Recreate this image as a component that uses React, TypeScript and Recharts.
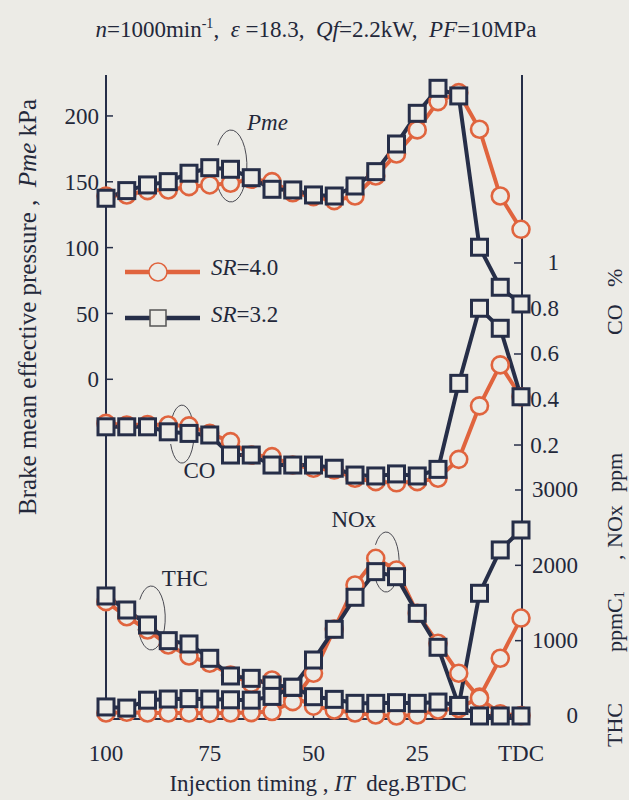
import React from 'react';
import { LineChart, Line, XAxis, YAxis, Legend, ReferenceDot } from 'recharts';

// injection timing, deg BTDC (0 = TDC)
const timing = [100, 95, 90, 85, 80, 75, 70, 65, 60, 55, 50, 45, 40, 35, 30, 25, 20, 15, 10, 5, 0];

// brake mean effective pressure, kPa
const pmeSR40 = [139.2, 140.0, 143.3, 143.8, 146.3, 147.6, 148.9, 151.9, 150.1, 141.7, 138.7, 135.7, 139.2, 154.4, 171.1, 189.4, 210.9, 217.7, 189.9, 139.2, 113.9];
const pmeSR32 = [137.5, 143.3, 147.6, 150.1, 156.5, 160.7, 159.5, 153.1, 144.3, 143.8, 140.0, 139.2, 146.8, 157.7, 178.7, 202.0, 221.0, 215.2, 100.3, 69.9, 57.2];

// CO, %
const coSR40 = [0.295, 0.288, 0.29, 0.288, 0.284, 0.251, 0.215, 0.156, 0.149, 0.112, 0.098, 0.09, 0.054, 0.039, 0.034, 0.039, 0.054, 0.137, 0.372, 0.552, 0.412];
const coSR32 = [0.28, 0.28, 0.28, 0.258, 0.251, 0.244, 0.156, 0.156, 0.112, 0.112, 0.112, 0.098, 0.068, 0.064, 0.073, 0.064, 0.093, 0.471, 0.801, 0.713, 0.412];

// THC ppmC1
const thcSR40 = [1518, 1318, 1142, 943, 797, 700, 544, 434, 478, 260, 130, 80, 40, 13, 0, 13, 80, 100, 250, 766, 1300];
const thcSR32 = [1593, 1407, 1208, 1000, 956, 766, 531, 500, 411, 381, 256, 221, 168, 168, 177, 168, 185, 140, 1629, 2204, 2469];

// NOx ppm
const noxSR40 = [40, 50, 40, 40, 40, 35, 40, 45, 60, 190, 567, 1155, 1739, 2093, 1938, 1363, 965, 567, 235, 30, 5];
const noxSR32 = [120, 105, 210, 225, 230, 225, 215, 210, 260, 381, 743, 1151, 1576, 1916, 1849, 1363, 912, 140, 0, 0, 0];

const xTicks = [100, 75, 50, 25, 0];
const pmeTicks = [0, 50, 100, 150, 200];
const coTicks = [0.2, 0.4, 0.6, 0.8, 1];
const ppmTicks = [0, 1000, 2000, 3000];

const ORANGE = '#e0643e';
const NAVY = '#262e48';
const BG = '#ecebe6';
const INK = '#23283a';
const FONT = '"Liberation Serif", "Times New Roman", serif';

const data = timing.map((t, i) => ({
  t,
  pme40: pmeSR40[i], pme32: pmeSR32[i],
  co40: coSR40[i], co32: coSR32[i],
  thc40: thcSR40[i], thc32: thcSR32[i],
  nox40: noxSR40[i], nox32: noxSR32[i],
}));

const CircleDot = (props: any) => {
  const { cx, cy } = props;
  if (cx == null || cy == null) return null;
  return <circle cx={cx} cy={cy} r={8.5} fill={BG} stroke={ORANGE} strokeWidth={2.6} />;
};

const SquareDot = (props: any) => {
  const { cx, cy } = props;
  if (cx == null || cy == null) return null;
  return <rect x={cx - 8} y={cy - 8} width={16} height={16} fill={BG} stroke={NAVY} strokeWidth={3} />;
};

const RightTick = (props: any) => {
  const { x, y, payload, fmt } = props;
  return (
    <text x={x} y={y} textAnchor="end" dominantBaseline="central" fontSize={23} fill={INK} fontFamily={FONT}>
      {fmt(payload.value)}
    </text>
  );
};

// thin open ellipse used to tie a label to a pair of curves
const Loop = (rx: number, ry: number) => (props: any) => {
  const { cx, cy } = props;
  if (cx == null || cy == null) return null;
  const a0 = (215 * Math.PI) / 180;
  const a1 = (160 * Math.PI) / 180;
  const sx = cx + rx * Math.cos(a0), sy = cy + ry * Math.sin(a0);
  const ex = cx + rx * Math.cos(a1), ey = cy + ry * Math.sin(a1);
  return <path d={`M${sx},${sy} A${rx},${ry} 0 1 1 ${ex},${ey}`} fill="none" stroke="#4a4a52" strokeWidth={1} />;
};

const Tag = (label: string, italic = false) => (props: any) => {
  const { cx, cy } = props;
  if (cx == null || cy == null) return null;
  return (
    <text x={cx} y={cy} textAnchor="middle" dominantBaseline="central" fontSize={23}
      fontStyle={italic ? 'italic' : 'normal'} fill={INK} fontFamily={FONT}>
      {label}
    </text>
  );
};

const renderLegend = () => (
  <svg width={190} height={84} style={{ overflow: 'visible' }}>
    <line x1={5} y1={20} x2={80} y2={20} stroke={ORANGE} strokeWidth={4.5} />
    <circle cx={38} cy={20} r={9} fill={BG} stroke={ORANGE} strokeWidth={1.5} />
    <text x={91} y={15} dominantBaseline="central" fontSize={23} fill={INK} fontFamily={FONT}>
      <tspan fontStyle="italic">SR</tspan>=4.0
    </text>
    <line x1={5} y1={66} x2={80} y2={66} stroke={NAVY} strokeWidth={4.5} />
    <rect x={30} y={58} width={16} height={16} fill={BG} stroke="#555" strokeWidth={1.5} />
    <text x={91} y={62} dominantBaseline="central" fontSize={23} fill={INK} fontFamily={FONT}>
      <tspan fontStyle="italic">SR</tspan>=3.2
    </text>
  </svg>
);

const frame = { stroke: NAVY, strokeWidth: 2 };
const tickLine = { stroke: NAVY, strokeWidth: 1.5 };
const tickText = { fontSize: 23, fill: INK, fontFamily: FONT };

export default function App() {
  const lineProps = { strokeWidth: 4, activeDot: false, isAnimationActive: false } as const;
  return (
    <div style={{ position: 'absolute', left: 0, top: 0, width: 629, height: 800, background: BG, fontFamily: FONT }}>
      <LineChart width={629} height={800} data={data} margin={{ top: 75, right: 48, bottom: 41, left: 50 }}>
        <XAxis dataKey="t" type="number" domain={[0, 100]} reversed ticks={xTicks} interval={0}
          tickFormatter={(v: number) => (v === 0 ? 'TDC' : String(v))}
          tickSize={-7} tickMargin={33} height={40}
          axisLine={frame} tickLine={tickLine} tick={tickText} />
        <XAxis xAxisId="top" orientation="top" type="number" domain={[0, 100]} reversed height={0}
          tick={false} tickLine={false} axisLine={frame} />
        <YAxis yAxisId="pme" type="number" domain={[-258, 231.1]} ticks={pmeTicks} interval={0}
          width={56} tickSize={-7} tickMargin={14} axisLine={frame} tickLine={tickLine} tick={tickText} />
        <YAxis yAxisId="co" orientation="right" type="number" domain={[-1.004, 1.826]} ticks={coTicks} interval={0}
          width={1} tickSize={-7} tickMargin={45} axisLine={false} tickLine={tickLine}
          tick={(p: any) => <RightTick {...p} fmt={(v: number) => (v === 1 ? '1' : v.toFixed(1))} />} />
        <YAxis yAxisId="ppm" orientation="right" type="number" domain={[-40, 8509]} ticks={ppmTicks} interval={0}
          width={59} tickSize={-7} tickMargin={63} axisLine={frame} tickLine={tickLine}
          tick={(p: any) => <RightTick {...p} fmt={(v: number) => String(v)} />} />

        <Legend layout="horizontal" verticalAlign="middle" align="center" content={renderLegend}
          wrapperStyle={{ position: 'absolute', left: 120, top: 252, width: 190, height: 84 }} />

        <Line yAxisId="ppm" dataKey="thc40" stroke={ORANGE} dot={<CircleDot />} {...lineProps} />
        <Line yAxisId="ppm" dataKey="nox40" stroke={ORANGE} dot={<CircleDot />} {...lineProps} />
        <Line yAxisId="co" dataKey="co40" stroke={ORANGE} dot={<CircleDot />} {...lineProps} />
        <Line yAxisId="pme" dataKey="pme40" stroke={ORANGE} dot={<CircleDot />} {...lineProps} />
        <Line yAxisId="ppm" dataKey="thc32" stroke={NAVY} dot={<SquareDot />} {...lineProps} />
        <Line yAxisId="ppm" dataKey="nox32" stroke={NAVY} dot={<SquareDot />} {...lineProps} />
        <Line yAxisId="co" dataKey="co32" stroke={NAVY} dot={<SquareDot />} {...lineProps} />
        <Line yAxisId="pme" dataKey="pme32" stroke={NAVY} dot={<SquareDot />} {...lineProps} />

        <ReferenceDot yAxisId="pme" x={69.9} y={162} r={0} shape={Loop(16, 36)} />
        <ReferenceDot yAxisId="pme" x={61.1} y={194.7} r={0} shape={Tag('Pme', true)} />
        <ReferenceDot yAxisId="co" x={81.7} y={0.248} r={0} shape={Loop(12, 29)} />
        <ReferenceDot yAxisId="co" x={77.5} y={0.086} r={0} shape={Tag('CO')} />
        <ReferenceDot yAxisId="ppm" x={89.1} y={1301} r={0} shape={Loop(14, 32)} />
        <ReferenceDot yAxisId="ppm" x={81.0} y={1819} r={0} shape={Tag('THC')} />
        <ReferenceDot yAxisId="ppm" x={32.5} y={2044} r={0} shape={Loop(13, 30)} />
        <ReferenceDot yAxisId="ppm" x={40.3} y={2602} r={0} shape={Tag('NOx')} />
      </LineChart>

      <svg width={629} height={800} style={{ position: 'absolute', left: 0, top: 0, pointerEvents: 'none' }}
        fontFamily={FONT} fill={INK}>
        <text x={316} y={37} textAnchor="middle" fontSize={23} style={{ whiteSpace: 'pre' }}>
          <tspan fontStyle="italic">n</tspan>=1000min<tspan dy={-9} fontSize={14}>-1</tspan>
          <tspan dy={9}>,  </tspan><tspan fontStyle="italic">ε</tspan> =18.3,  <tspan fontStyle="italic">Qf</tspan>=2.2kW,  <tspan fontStyle="italic">PF</tspan>=10MPa
        </text>
        <text transform="translate(27,307) rotate(-90)" textAnchor="middle" dominantBaseline="central"
          fontSize={25} style={{ whiteSpace: 'pre' }}>
          Brake mean effective pressure ,  <tspan fontStyle="italic">Pme</tspan> kPa
        </text>
        <g transform="translate(614,0) rotate(-90)" fontSize={22}>
          <text x={-335} y={0} dominantBaseline="central">CO</text>
          <text x={-287} y={0} dominantBaseline="central">%</text>
          <text x={-747} y={0} dominantBaseline="central">THC</text>
          <text x={-652} y={0} dominantBaseline="central">ppmC<tspan fontSize={14} dy={5}>1</tspan></text>
          <text x={-560} y={0} dominantBaseline="central">,</text>
          <text x={-548} y={0} dominantBaseline="central">NOx</text>
          <text x={-492} y={0} dominantBaseline="central">ppm</text>
        </g>
        <text x={318} y={791} textAnchor="middle" fontSize={23} style={{ whiteSpace: 'pre' }}>
          Injection timing , <tspan fontStyle="italic">IT</tspan>  deg.BTDC
        </text>
      </svg>
    </div>
  );
}
